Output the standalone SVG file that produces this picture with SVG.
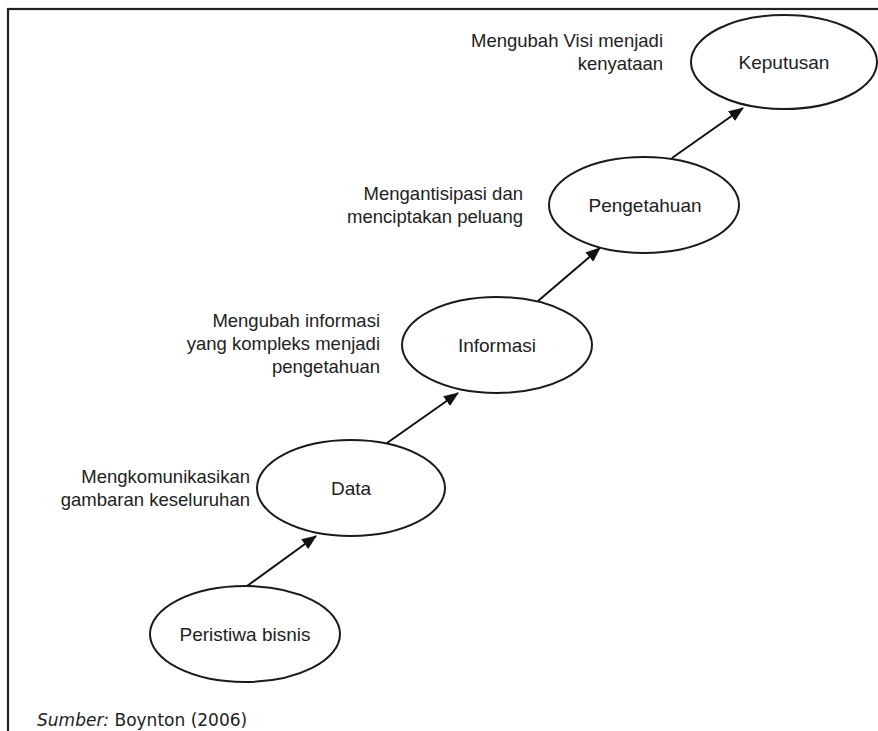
<svg xmlns="http://www.w3.org/2000/svg" width="878" height="731" viewBox="0 0 878 731">
<style>
.node ellipse{fill:#fff;stroke:#1a1a1a;stroke-width:2}
.node text{font-family:"Liberation Sans",Arial,sans-serif;font-size:19px;fill:#222;text-anchor:middle}
.lbl{font-family:"Liberation Sans",Arial,sans-serif;font-size:18.5px;fill:#222;text-anchor:end}
.conn line{stroke:#111;stroke-width:2;marker-end:url(#ah)}
</style>
<defs>
<marker id="ah" markerWidth="16" markerHeight="12" refX="14" refY="6" orient="auto" markerUnits="userSpaceOnUse">
<path d="M0,0 L15,6 L0,12 Z" fill="#111"/>
</marker>
</defs>
<rect x="0" y="0" width="878" height="731" fill="#fff"/>
<rect x="8" y="9" width="900" height="760" fill="none" stroke="#222" stroke-width="2.2"/>

<g class="conn">
<line x1="247" y1="586" x2="316" y2="536"/>
<line x1="387" y1="443" x2="458" y2="393"/>
<line x1="538" y1="301" x2="600" y2="248"/>
<line x1="672" y1="158" x2="743" y2="108"/>
</g>

<g id="keputusan" class="node">
<ellipse cx="784" cy="62" rx="93" ry="47"/>
<text x="784" y="69">Keputusan</text>
</g>
<g id="pengetahuan" class="node">
<ellipse cx="644" cy="205" rx="95" ry="48"/>
<text x="645" y="212">Pengetahuan</text>
</g>
<g id="informasi" class="node">
<ellipse cx="497" cy="345" rx="95" ry="48"/>
<text x="497" y="352">Informasi</text>
</g>
<g id="data" class="node">
<ellipse cx="351" cy="488" rx="94" ry="48"/>
<text x="351" y="495">Data</text>
</g>
<g id="peristiwa" class="node">
<ellipse cx="245" cy="634" rx="95" ry="48"/>
<text x="245" y="641">Peristiwa bisnis</text>
</g>

<g id="labels">
<text class="lbl" x="663" y="47">Mengubah Visi menjadi</text>
<text class="lbl" x="663" y="70">kenyataan</text>
<text class="lbl" x="523" y="200">Mengantisipasi dan</text>
<text class="lbl" x="523" y="223">menciptakan peluang</text>
<text class="lbl" x="380" y="327">Mengubah informasi</text>
<text class="lbl" x="380" y="350">yang kompleks menjadi</text>
<text class="lbl" x="380" y="373">pengetahuan</text>
<text class="lbl" x="250" y="483">Mengkomunikasikan</text>
<text class="lbl" x="250" y="506">gambaran keseluruhan</text>
</g>

<text x="37" y="726" font-family="'DejaVu Sans',Verdana,sans-serif" font-size="17" fill="#222"><tspan font-style="italic">Sumber:</tspan> Boynton (2006)</text>
</svg>
